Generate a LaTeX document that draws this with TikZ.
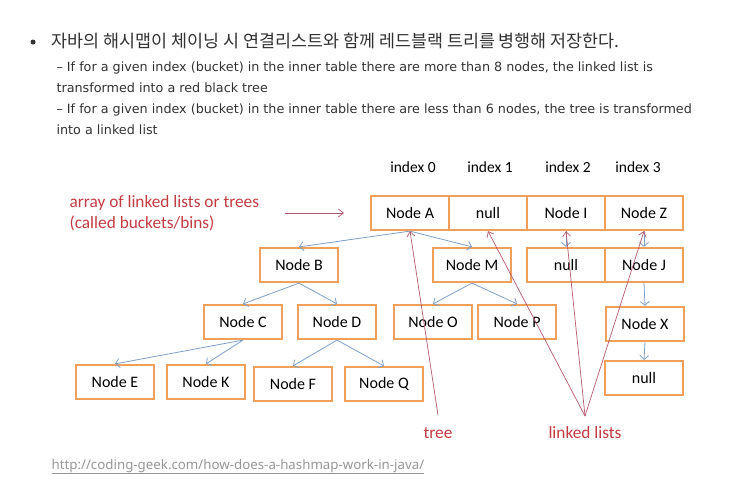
\documentclass[tikz,border=0pt]{standalone}
\usepackage{fontspec}
\setmainfont{Carlito}
\newfontfamily\krfont{Noto Sans CJK KR}
\newfontfamily\notefont{DejaVu Sans}
\newfontfamily\urlfont{Noto Sans}
\usetikzlibrary{arrows.meta}
\usetikzlibrary{positioning}

\definecolor{boxorange}{RGB}{240,160,90}
\definecolor{linkblue}{RGB}{125,160,200}
\definecolor{pointred}{RGB}{180,90,110}
\definecolor{labelred}{RGB}{195,60,65}
\definecolor{notegrey}{RGB}{50,50,50}
\definecolor{urlgrey}{RGB}{150,150,150}

\tikzset{
  cell/.style={draw=boxorange, line width=2.2pt, minimum width=78pt,
    minimum height=34pt, inner sep=0pt, font=\fontsize{16}{18}\selectfont},
  link/.style={draw=linkblue, line width=0.8pt,
    -{Straight Barb[length=4pt,width=9pt]}},
  pointer/.style={draw=pointred, line width=0.7pt,
    -{Straight Barb[length=5pt,width=8pt]}},
  remark/.style={text=labelred, font=\fontsize{17.3}{21}\selectfont},
  note/.style={anchor=base west, text=notegrey,
    font=\notefont\fontsize{12.75}{14}\selectfont}
}

\begin{document}
\begin{tikzpicture}[x=1pt,y=-1pt]
     \useasboundingbox (0,0) rectangle (730,485);

     % heading
     \fill[notegrey] (33,42) circle[radius=2.5pt];
     \node[anchor=base west, text=notegrey,
       font=\krfont\fontsize{17.4}{20}\selectfont] (heading) at (48,47)
       {자바의 해시맵이 체이닝 시 연결리스트와 함께 레드블랙 트리를 병행해 저장한다.};
     \node[note] (note1) at (53,71) {– If for a given index (bucket) in the inner table there are more than 8 nodes, the linked list is};
     \node[note] (note2) at (53,92) {transformed into a red black tree};
     \node[note] (note3) at (53,113) {– If for a given index (bucket) in the inner table there are less than 6 nodes, the tree is transformed};
     \node[note] (note4) at (53,134) {into a linked list};

     % index labels
     \foreach \x/\i in {413/0,490/1,568/2,638/3}
       {
         \node[font=\fontsize{15.5}{18}\selectfont] (idx\i) at (\x,167) {index \i};
       }

     % table
     \foreach \x/\name/\txt in
     {410/A/Node A,488/nullA/null,566/I/Node I,644/Z/Node Z}
       {
         \node[cell] (\name) at (\x,213) {\txt};
       }

     % trees and lists
     \node[cell] (B) at (299,265) {Node B};
     \node[cell] (M) at (472,265) {Node M};
     \node[cell] (nullI) at (566,265) {null};
     \node[cell] (J) at (644,265) {Node J};
     \node[cell] (C) at (243,322) {Node C};
     \node[cell] (D) at (337,322) {Node D};
     \node[cell] (O) at (433,322) {Node O};
     \node[cell] (P) at (517,322) {Node P};
     \node[cell] (X) at (645,324) {Node X};
     \node[cell] (nullX) at (644,378) {null};
     \node[cell] (E) at (115,382) {Node E};
     \node[cell] (K) at (206,382) {Node K};
     \node[cell] (F) at (293,384) {Node F};
     \node[cell] (Q) at (384,384) {Node Q};

     \foreach \a/\b in
     {A/B,A/M,B/C,B/D,C/E,C/K,D/F,D/Q,M/O,M/P,I/nullI,Z/J,J/X,X/nullX}
       {
         \draw[link] (\a.south) -- (\b.north);
       }

     % red remarks
     \node[remark, align=left, anchor=west] (arraylabel) at (66,213)
       {array of linked lists or trees\\(called buckets/bins)};
     \draw[pointer] ([xshift=22pt]arraylabel.east) -- ([xshift=-26pt]A.west);

     \node[remark] (treelabel) at (438,433) {tree};
     \node[remark] (listlabel) at (585,433) {linked lists};
     \coordinate (treefoot) at (438,415);
     \coordinate (listfoot) at (585,416);
     \draw[pointer] (treefoot) -- (A.south);
     \foreach \b in {nullA,I,Z}
       {
         \draw[pointer] (listfoot) -- (\b.south);
       }

     % source
     \node[anchor=base west, text=urlgrey,
       font=\urlfont\fontsize{13.3}{15}\selectfont] (source) at (48,469)
       {\underline{http://coding-geek.com/how-does-a-hashmap-work-in-java/}};
 \end{tikzpicture}
\end{document}
